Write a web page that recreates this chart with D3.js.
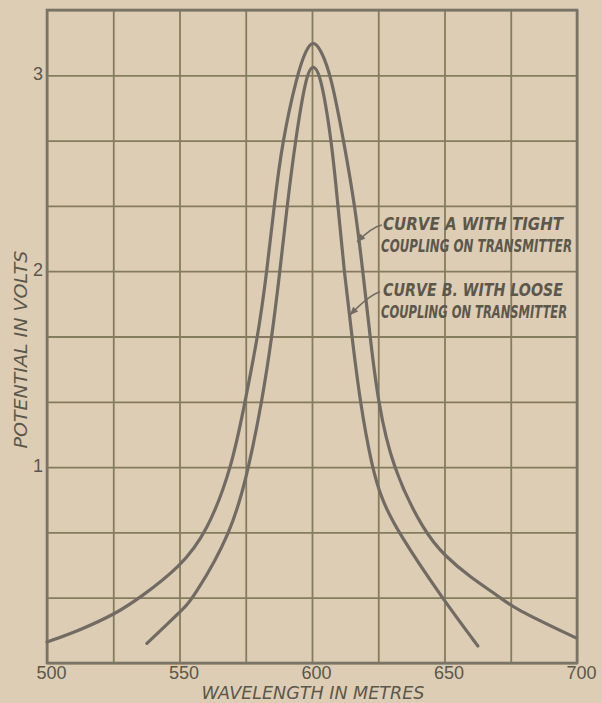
<!DOCTYPE html>
<html>
<head>
<meta charset="utf-8">
<script src="https://cdn.jsdelivr.net/npm/d3@7"></script>
<style>
  html, body { margin: 0; padding: 0; background: #ddcdb4; }
  svg { display: block; }
</style>
</head>
<body>
<svg id="chart" width="602" height="703"></svg>
<script>
// ---- data ----
const xTickValues = [500, 550, 600, 650, 700];
const xTickLabels = ["500", "550", "600", "650", "700"];
const yTickValues = [1, 2, 3];
const yTickLabels = ["1", "2", "3"];
const xGridValues = [500, 525, 550, 575, 600, 625, 650, 675, 700];
const yGridValues = [0, 1/3, 2/3, 1, 4/3, 5/3, 2, 7/3, 8/3, 3, 10/3];

const wavelengthsA = [500, 512.5, 525.7, 535.1, 550.2, 560.4, 569.8, 574.7, 579.6, 583.0, 585.7, 588.7, 594.3, 597.7, 600.4, 603.4, 607.2, 612.1, 616.2, 619.2, 621.9, 624.9, 630.2, 642.3, 650.6, 659.6, 670.9, 675.8, 699.6];
const voltsA       = [0.107, 0.168, 0.25, 0.333, 0.49, 0.667, 1.0, 1.333, 1.667, 2.0, 2.333, 2.655, 3.0, 3.13, 3.18, 3.13, 3.0, 2.655, 2.333, 2.0, 1.667, 1.333, 1.0, 0.667, 0.541, 0.439, 0.337, 0.281, 0.128];

const wavelengthsB = [537.7, 550.9, 554.7, 569.8, 576.2, 581.1, 584.9, 587.9, 590.6, 593.6, 597.7, 600.4, 603.4, 607.5, 609.8, 612.1, 615.1, 618.1, 622.6, 626.4, 632.5, 649.0, 662.6];
const voltsB       = [0.10, 0.27, 0.32, 0.667, 1.0, 1.333, 1.667, 2.0, 2.333, 2.655, 3.0, 3.06, 3.0, 2.655, 2.333, 2.0, 1.667, 1.333, 1.0, 0.83, 0.667, 0.333, 0.087];

const labelA = ["CURVE A WITH TIGHT", "COUPLING ON TRANSMITTER"];
const labelB = ["CURVE B. WITH LOOSE", "COUPLING ON TRANSMITTER"];
const xTitle = "WAVELENGTH IN METRES";
const yTitle = "POTENTIAL IN VOLTS";

// ---- layout ----
const plotLeft = 47, plotRight = 577, plotTop = 10, plotBottom = 663;
const svg = d3.select("#chart");
const x = d3.scaleLinear().domain([500, 700]).range([plotLeft, plotRight]);
const y = d3.scaleLinear().domain([0, 10/3]).range([plotBottom, plotTop]);

const bg = "#ddcdb4";
const gridColor = "#857c5e";
const curveColor = "#716b63";
const textColor = "#5b574a";

svg.append("rect").attr("width", 602).attr("height", 703).attr("fill", bg);

// grid via axes
const gx = svg.append("g").attr("transform", `translate(0,${plotBottom})`)
  .call(d3.axisBottom(x).tickValues(xGridValues).tickSize(-(plotBottom - plotTop)).tickFormat(""));
gx.select(".domain").remove();
gx.selectAll("line").attr("stroke", gridColor).attr("stroke-width", 1.8);

const gy = svg.append("g").attr("transform", `translate(${plotLeft},0)`)
  .call(d3.axisLeft(y).tickValues(yGridValues).tickSize(-(plotRight - plotLeft)).tickFormat(""));
gy.select(".domain").remove();
gy.selectAll("line").attr("stroke", gridColor).attr("stroke-width", 1.8);

// frame
svg.append("rect")
  .attr("x", x(500)).attr("y", y(10/3))
  .attr("width", x(700) - x(500)).attr("height", y(0) - y(10/3))
  .attr("fill", "none").attr("stroke", "#7a7367").attr("stroke-width", 2.6);

// tick labels
const ax = svg.append("g").attr("transform", `translate(0,${plotBottom})`)
  .call(d3.axisBottom(x).tickValues(xTickValues).tickSize(0).tickPadding(0)
    .tickFormat((d, i) => xTickLabels[i]));
ax.select(".domain").remove();
ax.selectAll("text")
  .attr("y", 16).attr("dy", 0).attr("dx", 4)
  .attr("fill", textColor)
  .style("font-family", "'Liberation Sans', Arial, sans-serif")
  .style("font-size", "18px");

const ay = svg.append("g").attr("transform", `translate(${plotLeft},0)`)
  .call(d3.axisLeft(y).tickValues(yTickValues).tickSize(0).tickPadding(4)
    .tickFormat((d, i) => yTickLabels[i]));
ay.select(".domain").remove();
ay.selectAll("text")
  .attr("fill", textColor)
  .attr("dy", "0.25em")
  .style("font-family", "'Liberation Sans', Arial, sans-serif")
  .style("font-size", "18px");

// curves
const line = d3.line().x(d => x(d[0])).y(d => y(d[1])).curve(d3.curveBasis);
const dataA = wavelengthsA.map((w, i) => [w, voltsA[i]]);
const dataB = wavelengthsB.map((w, i) => [w, voltsB[i]]);
[dataA, dataB].forEach(d => {
  svg.append("path").datum(d).attr("d", line)
    .attr("fill", "none").attr("stroke", curveColor)
    .attr("stroke-width", 3.2).attr("stroke-linecap", "round");
});

// text fitted to a width by horizontal scaling
function fitText(sel, px, py, width, rotate) {
  const natural = sel.node().getComputedTextLength();
  const sx = width / natural;
  sel.attr("transform", `translate(${px},${py})${rotate ? " rotate(" + rotate + ")" : ""} scale(${sx},1)`);
  return sel;
}

// annotations
const annFont = "'DejaVu Sans Condensed', 'Liberation Sans Narrow', sans-serif";
function annot(lines, w0, v1, v2, widths, from, to) {
  const g = svg.append("g");
  [v1, v2].forEach((v, i) => {
    const t = g.append("text")
      .attr("fill", textColor)
      .style("font-family", annFont).style("font-style", "italic")
      .style("font-size", "18px").style("font-weight", "600")
      .text(lines[i]);
    fitText(t, x(w0) + (i === 1 ? -2 : 0), y(v), widths[i]);
  });
  const x1 = x(from[0]), y1 = y(from[1]), x2 = x(to[0]), y2 = y(to[1]);
  g.append("path")
    .attr("d", `M${x1},${y1} Q${x1 - 10},${y1 + 2} ${x2},${y2}`)
    .attr("fill", "none").attr("stroke", curveColor).attr("stroke-width", 1.6);
  const ang = Math.atan2(y2 - (y1 + 2), x2 - (x1 - 10));
  const L = 9, s = 0.4;
  g.append("path")
    .attr("d", `M${x2},${y2} L${x2 - L * Math.cos(ang - s)},${y2 - L * Math.sin(ang - s)} L${x2 - L * Math.cos(ang + s)},${y2 - L * Math.sin(ang + s)} Z`)
    .attr("fill", curveColor);
}
annot(labelA, 626.8, 2.21, 2.098, [180, 191], [626.4, 2.236], [617.0, 2.149]);
annot(labelB, 626.8, 1.873, 1.761, [180, 186], [625.7, 1.894], [614.3, 1.776]);

// axis titles
const xt = svg.append("text")
  .attr("text-anchor", "middle")
  .attr("fill", textColor)
  .style("font-family", "'DejaVu Sans', sans-serif").style("font-style", "italic")
  .style("font-size", "17px")
  .text(xTitle);
fitText(xt, (x(500) + x(700)) / 2 + 1, 699, 223);

const yt = svg.append("text")
  .attr("text-anchor", "middle")
  .attr("fill", textColor)
  .style("font-family", "'DejaVu Sans', sans-serif").style("font-style", "italic")
  .style("font-size", "18px")
  .text(yTitle);
fitText(yt, 27, y(1.6), 198, -90);
</script>
</body>
</html>
